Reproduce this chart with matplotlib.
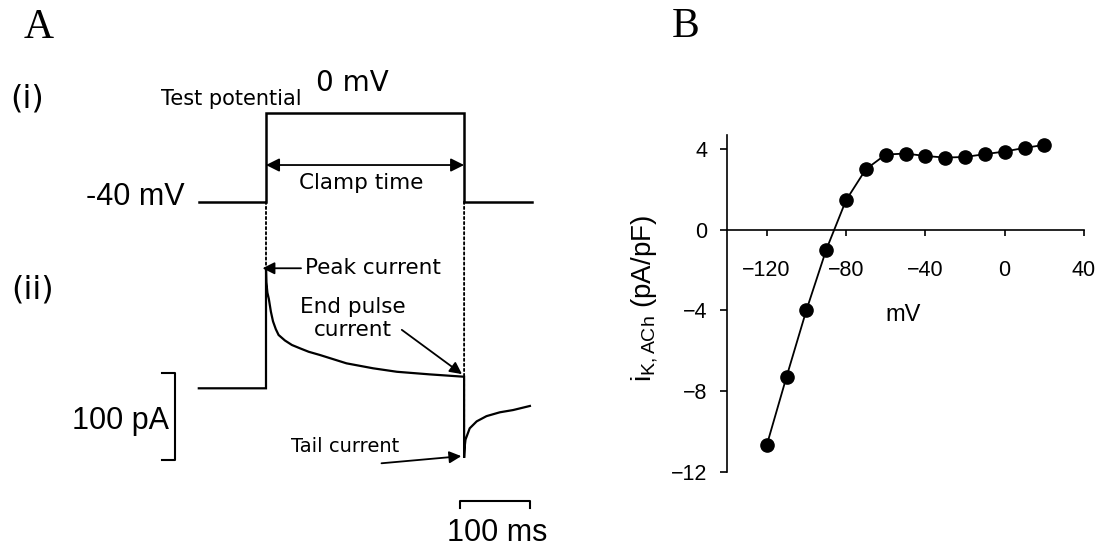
import matplotlib
matplotlib.use("Agg")
import matplotlib.pyplot as plt
from matplotlib.patches import ConnectionPatch

# ---------------- Panel A: voltage-clamp protocol and current ----------------
hold_mv = -40
test_mv = 0
sweep_start_ms = -96
pulse_start_ms = 0
pulse_end_ms = 283
sweep_end_ms = 380

# current during the test pulse (pA, relative to the holding current)
pulse_t_ms = [0, 0.5, 2, 4, 7, 10, 14, 18, 27, 37, 50, 61, 77, 115, 153, 187, 234, 283]
pulse_i_pa = [139, 122, 110, 103, 88, 77, 68, 61.3, 55, 49.8, 45.5, 42, 38.3, 28.7,
              23, 19, 16, 13.3]
# tail current after repolarisation
tail_t_ms = [283, 284, 285, 291, 301, 315, 334, 353, 377]
tail_i_pa = [-80, -66, -59, -46, -38, -32, -27.6, -25, -20.3]

scale_pa = 100
scale_ms = 100

# ---------------- Panel B: I-V relation of i_K,ACh ----------------
v_mv = [-120, -110, -100, -90, -80, -70, -60, -50, -40, -30, -20, -10, 0, 10, 20]
i_kach = [-10.7, -7.3, -4.0, -1.0, 1.46, 3.0, 3.73, 3.78, 3.66, 3.58, 3.61,
          3.75, 3.88, 4.06, 4.21]
x_ticks = [-120, -80, -40, 0, 40]
y_ticks = [-12, -8, -4, 0, 4]

plt.rcParams["font.family"] = ["Liberation Sans", "DejaVu Sans"]
plt.rcParams["mathtext.fontset"] = "custom"
plt.rcParams["mathtext.rm"] = "Liberation Sans"
plt.rcParams["mathtext.it"] = "Liberation Sans:italic"

W, H, DPI = 1099, 548, 100
fig = plt.figure(figsize=(W / DPI, H / DPI), dpi=DPI)


def rect(x0, y0, x1, y1):
    return [x0 / W, 1 - y1 / H, (x1 - x0) / W, (y1 - y0) / H]


def fpos(x, y):
    return x / W, 1 - y / H


LBL = dict(family="DejaVu Sans", color="black")

# ---- panel A axes: (i) voltage, (ii) current, sharing a time axis ----
ax_v = fig.add_axes(rect(0, 50, 560, 240))
ax_i = fig.add_axes(rect(0, 240, 560, 548))
for ax in (ax_v, ax_i):
    ax.set_xlim(-380, 420)
    ax.axis("off")
ax_v.set_ylim(-57.2, 28.2)
ax_i.set_ylim(-183.6, 170.5)

# voltage step
vt = [sweep_start_ms, pulse_start_ms, pulse_start_ms, pulse_end_ms, pulse_end_ms, sweep_end_ms]
vv = [hold_mv, hold_mv, test_mv, test_mv, hold_mv, hold_mv]
ax_v.plot(vt, vv, color="black", lw=1.8, solid_joinstyle="miter")

# current trace
it = [sweep_start_ms, pulse_start_ms] + pulse_t_ms + tail_t_ms
ii = [0, 0] + pulse_i_pa + tail_i_pa
ax_i.plot(it, ii, color="black", lw=1.6, solid_joinstyle="miter")

# dotted guides from the voltage edges down to the current
for t, i_end in [(pulse_start_ms, pulse_i_pa[0]), (pulse_end_ms, tail_i_pa[0])]:
    cp = ConnectionPatch(xyA=(t, hold_mv), coordsA=ax_v.transData,
                         xyB=(t, i_end), coordsB=ax_i.transData,
                         linestyle=(0, (1.2, 1.5)), color="black", lw=1.35)
    fig.add_artist(cp)

# clamp time double arrow
clamp_v = -23.5
ax_v.annotate("", xy=(pulse_end_ms, clamp_v), xytext=(pulse_start_ms, clamp_v),
              arrowprops=dict(arrowstyle="<|-|>", color="black", lw=1.3,
                              mutation_scale=20, shrinkA=0, shrinkB=0))
ax_v.text((pulse_start_ms + pulse_end_ms) / 2 - 5, -31.7, "Clamp time",
          ha="center", va="center", fontsize=15.5, **LBL)
ax_v.text(51, 3.46, "Test potential", ha="right", va="baseline", fontsize=15, **LBL)
ax_v.text(123, 13.3, "0 mV", ha="center", va="center", fontsize=20, **LBL)
ax_v.text(-115.7, -37.9, "-40 mV", ha="right", va="center", fontsize=22)

# current annotations
ax_i.annotate("Peak current", xy=(pulse_start_ms - 5, pulse_i_pa[0] - 1), xytext=(56, 138),
              ha="left", va="center", fontsize=15.5, **LBL,
              arrowprops=dict(arrowstyle="-|>", color="black", lw=1.3,
                              mutation_scale=18, shrinkA=1, shrinkB=0))
ax_i.text(124.7, 80.5, "End pulse\ncurrent", ha="center", va="center",
          multialignment="center", fontsize=15.5, linespacing=1.2, **LBL)
ax_i.annotate("", xy=(pulse_end_ms - 3, pulse_i_pa[-1] + 3), xytext=(194, 67.2),
              arrowprops=dict(arrowstyle="-|>", color="black", lw=1.3,
                              mutation_scale=18, shrinkA=0, shrinkB=0))
ax_i.text(112.9, -67.1, "Tail current", ha="center", va="center", fontsize=14, **LBL)
ax_i.annotate("", xy=(pulse_end_ms - 4, tail_i_pa[0] + 2), xytext=(165, -86.2),
              arrowprops=dict(arrowstyle="-|>", color="black", lw=1.3,
                              mutation_scale=18, shrinkA=0, shrinkB=0))

# scale bars
pa_x, pa_top = -130, 17.6
ax_i.plot([pa_x - 18.6, pa_x, pa_x, pa_x - 18.6],
          [pa_top, pa_top, pa_top - scale_pa, pa_top - scale_pa], color="black", lw=1.5)
ax_i.text(-139, pa_top - scale_pa / 2 - 5, "100 pA", ha="right", va="center", fontsize=22)
ms_x, ms_y = 277, -129.2
ax_i.plot([ms_x, ms_x, ms_x + scale_ms, ms_x + scale_ms],
          [ms_y - 8.4, ms_y, ms_y, ms_y - 8.4], color="black", lw=1.5)
ax_i.text(ms_x + scale_ms / 2 + 3, -166.7, "100 ms", ha="center", va="center", fontsize=22)

fig.text(*fpos(27, 99), "(i)", ha="center", va="center", fontsize=23, **LBL)
fig.text(*fpos(33, 290), "(ii)", ha="center", va="center", fontsize=23, **LBL)

# ---- panel B ----
axb = fig.add_axes(rect(727, 135, 1084, 471.7))
axb.set_xlim(-140, 40)
axb.set_ylim(-12, 4.7)
axb.plot(v_mv, i_kach, color="black", lw=1.3, marker="o", ms=9.5, zorder=3,
         clip_on=False)
for s in ("top", "right"):
    axb.spines[s].set_visible(False)
axb.spines["bottom"].set_position(("data", 0))
for s in ("left", "bottom"):
    axb.spines[s].set_linewidth(1.2)
axb.set_xticks(x_ticks)
axb.set_yticks(y_ticks)
axb.tick_params(axis="x", direction="out", length=4, width=1.2, pad=18, labelsize=15.5)
axb.tick_params(axis="y", direction="out", length=5, width=1.2, pad=9, labelsize=15.5)
axb.text(-51.2, -4.25, "mV", ha="center", va="center", fontsize=17)
axb.set_ylabel(r"i$_{\mathregular{K,ACh}}$ (pA/pF)", fontsize=20)
axb.yaxis.set_label_coords(-0.188, 0.516)

# panel letters
fig.text(*fpos(39, 28), "A", ha="center", va="center", fontsize=30, family="Liberation Serif")
fig.text(*fpos(686, 27), "B", ha="center", va="center", fontsize=30, family="Liberation Serif")

fig.savefig("out.png", dpi=DPI)
